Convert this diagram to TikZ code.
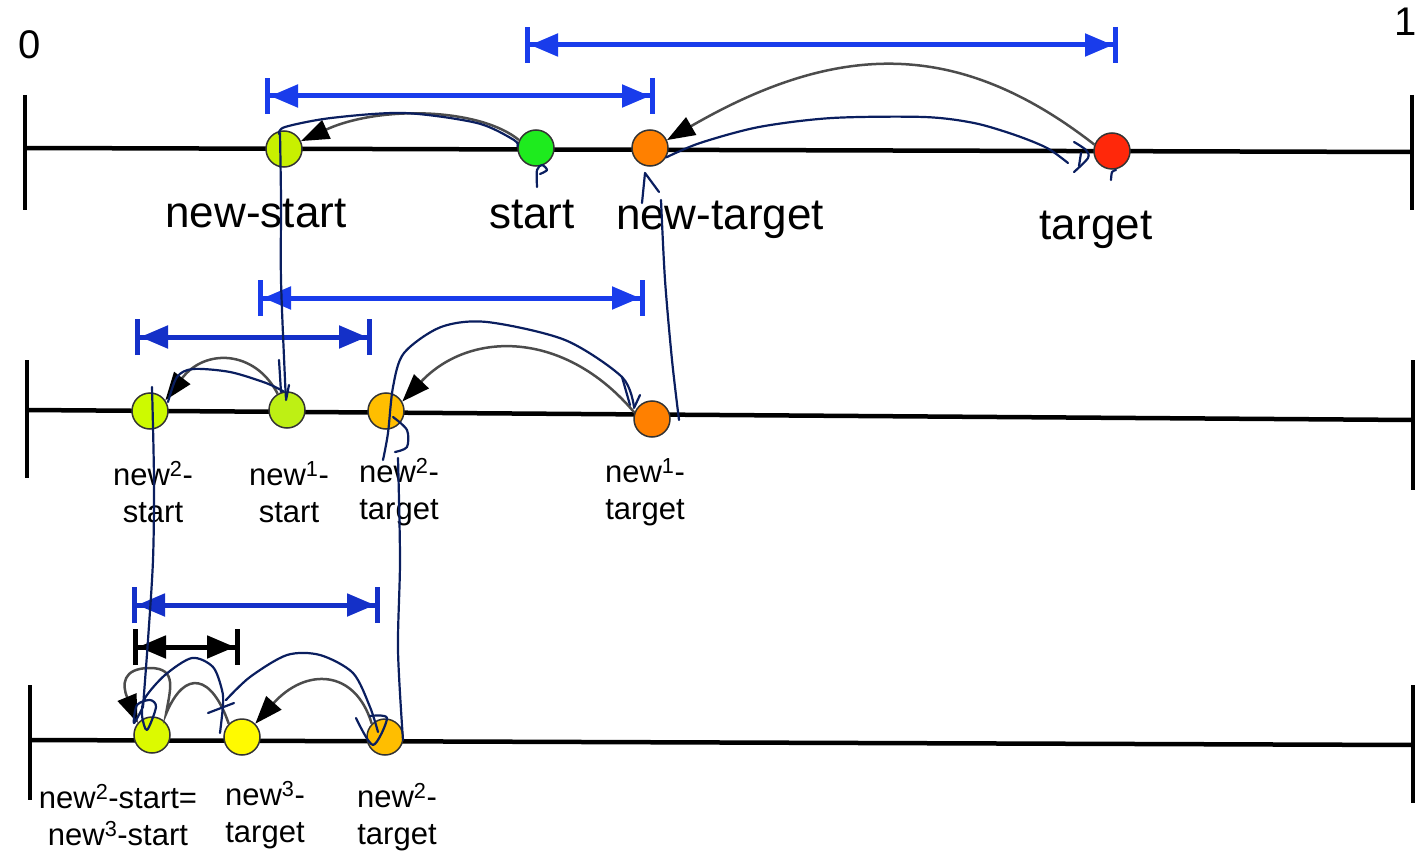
\documentclass[tikz,border=0pt]{standalone}
\usepackage{fontspec}
\setmainfont{Liberation Sans}
\usetikzlibrary{arrows.meta}
\definecolor{spanblue}{RGB}{25,60,235}
\definecolor{spanblueb}{RGB}{20,48,200}
\definecolor{navy}{RGB}{10,30,95}
\definecolor{cNS}{RGB}{200,240,0}
\definecolor{cST}{RGB}{30,235,30}
\definecolor{cNT}{RGB}{255,128,0}
\definecolor{cTG}{RGB}{255,40,10}
\definecolor{cNtwoS}{RGB}{205,250,0}
\definecolor{cNoneS}{RGB}{190,240,20}
\definecolor{cNtwoT}{RGB}{255,190,0}
\definecolor{cNthrS}{RGB}{220,250,0}
\definecolor{cNthrT}{RGB}{255,250,0}
\begin{document}
\begin{tikzpicture}[x=1pt,y=-1pt,
 axis/.style={line width=4.5pt,black},
 dot/.style={circle,draw=black!80,line width=1.5pt,minimum size=36pt,inner sep=0pt},
 span/.style={line width=5pt,{Bar[width=36pt]Triangle[length=28pt,width=22pt]}-{Triangle[length=28pt,width=22pt]Bar[width=36pt]}},
 hop/.style={line width=2.5pt,draw=black!70,-{Triangle[length=28pt,width=20pt,color=black,fill=black]}},
 pen/.style={line width=2.2pt,draw=navy,line cap=round,line join=round},
 big/.style={font=\fontsize{44}{48}\selectfont},
 small/.style={font=\fontsize{31}{37}\selectfont,align=center,inner sep=0pt},
]
\useasboundingbox (0,0) rectangle (1416,853);

% axes
\coordinate (a1l) at (25,148); \coordinate (a1r) at (1413,152);
\coordinate (a2l) at (27,410); \coordinate (a2r) at (1413,420);
\coordinate (a3l) at (30,740); \coordinate (a3r) at (1413,745);
\draw[axis] (a1l) -- (a1r);
\draw[axis] (a2l) -- (a2r);
\draw[axis] (a3l) -- (a3r);
\draw[axis] (25,95) -- (25,210);
\draw[axis] (1412,95) -- (1412,210);
\draw[axis] (27,360) -- (27,478);
\draw[axis] (1413,360) -- (1413,490);
\draw[axis] (30,685) -- (30,800);
\draw[axis] (1413,685) -- (1413,803);

\node[font=\fontsize{40}{44}\selectfont] (zero) at (30,45) {0};
\node[font=\fontsize{40}{44}\selectfont] (one) at (1406,22) {1};

% span arrows
\coordinate (s1a) at (525,45); \coordinate (s1b) at (1118,45);
\coordinate (s2a) at (265,96); \coordinate (s2b) at (655,96);
\coordinate (s3a) at (258,298); \coordinate (s3b) at (645,298);
\coordinate (s4a) at (135,337); \coordinate (s4b) at (372,337);
\coordinate (s5a) at (132,605); \coordinate (s5b) at (380,605);
\coordinate (s6a) at (133,647); \coordinate (s6b) at (240,647);
\draw[span,spanblue] (s1a) -- (s1b);
\draw[span,spanblue] (s2a) -- (s2b);
\draw[span,spanblue] (s3a) -- (s3b);
\draw[span,spanblueb] (s4a) -- (s4b);
\draw[span,spanblueb] (s5a) -- (s5b);
\draw[span,black] (s6a) -- (s6b);

% points
\node[dot,fill=cNS] (ns) at (284,149) {};
\node[dot,fill=cST] (st) at (536,148) {};
\node[dot,fill=cNT] (nt) at (650,148) {};
\node[dot,fill=cTG] (tg) at (1112,151) {};
\node[dot,fill=cNtwoS] (n2s) at (150,411) {};
\node[dot,fill=cNoneS] (n1s) at (287,410) {};
\node[dot,fill=cNtwoT] (n2t) at (386,411) {};
\node[dot,fill=cNT] (n1t) at (652,419) {};
\node[dot,fill=cNthrS] (n3s) at (152,735) {};
\node[dot,fill=cNthrT] (n3t) at (242,737) {};
\node[dot,fill=cNtwoT] (n2tb) at (385,737) {};

% hops
\draw[hop] (st.155) .. controls (480,108) and (380,105) .. (ns.25);
\draw[hop] (tg.160) .. controls (960,40) and (840,40) .. (nt.25);
\draw[hop] (n1s.120) .. controls (255,350) and (205,348) .. (n2s.35);
\draw[hop] (n1t.160) .. controls (565,330) and (470,330) .. (n2t.30);
\draw[hop] (n2tb.135) .. controls (355,668) and (305,668) .. (n3t.45);
\draw[hop] (n3t.135) .. controls (212,675) and (185,668) .. (166,714)
  .. controls (170,690) and (178,668) .. (150,668)
  .. controls (122,668) and (122,685) .. (n3s.140);

% labels
\node[big] (lns) at (256,213) {new-start};
\node[big] (lst) at (532,214) {start};
\node[big] (lnt) at (720,220) {new-target};
\node[big] (ltg) at (1096,230) {target};
\node[small] (ln2s) at (153,492) {new\textsuperscript{2}-\\start};
\node[small] (ln1s) at (289,492) {new\textsuperscript{1}-\\start};
\node[small] (ln2t) at (399,492) {new\textsuperscript{2}-\\target};
\node[small] (ln1t) at (645,492) {new\textsuperscript{1}-\\target};
\node[small] (ln3s) at (118,815) {new\textsuperscript{2}-start=\\new\textsuperscript{3}-start};
\node[small] (ln3t) at (265,815) {new\textsuperscript{3}-\\target};
\node[small] (ln2tb) at (397,817) {new\textsuperscript{2}-\\target};

% hand-drawn strokes
\draw[pen] plot[smooth] coordinates {(st.175) (514,140) (477,123) (404,113) (331,118) (285,127) (279,134)};
\draw[pen] plot[smooth] coordinates {(280,133) (281,200) (281,280) (285,380) (286,398)};
\draw[pen] (279,360) -- (281,392);
\draw[pen] (289,385) -- (286,400);
\draw[pen] plot[smooth] coordinates {(537,187) (537,170) (542,165) (547,170) (540,174)};
\draw[pen] plot[smooth] coordinates {(nt.-30) (700,143) (759,127) (832,118) (924,117) (974,123) (1015,135) (1047,148) (1068,163)};
\draw[pen] plot[smooth] coordinates {(1074,142) (1086,150) (1088,158) (1074,172)};
\draw[pen] (1081,153) -- (1079,166);
\draw[pen] plot[smooth] coordinates {(1111,180) (1112,172) (1116,170)};
\draw[pen] (642,203) -- (645,173) -- (659,192);
\draw[pen] plot[smooth] coordinates {(661,200) (665,280) (672,360) (679,420)};
% row 2
\draw[pen] plot[smooth] coordinates {(n1s.100) (266,383) (230,372) (193,369) (177,377) (168,402)};
\draw[pen] plot[smooth] coordinates {(634,407) (622,377) (565,340) (487,322) (441,327) (404,353) (393,387) (388,433) (383,460)};
\draw[pen] plot[smooth] coordinates {(393,417) (407,430) (407,447) (395,452)};
\draw[pen] (622,377) -- (630,405);
\draw[pen] (640,395) -- (634,408);
\draw[pen] plot[smooth] coordinates {(152,387) (154,480) (153,560) (148,640) (143,707)};
\draw[pen] plot[smooth] coordinates {(398,458) (400,560) (398,650) (403,740)};
% row 3
\draw[pen] plot[smooth] coordinates {(143,707) (134,723) (137,705) (150,700) (156,707) (147,730) (142,715) (145,698) (165,675) (192,658) (213,667) (222,690) (223,705) (220,733)};
\draw[pen] (208,713) -- (234,703);
\draw[pen] plot[smooth] coordinates {(226,700) (250,677) (287,655) (320,655) (353,673) (370,707) (378,732)};
\draw[pen] plot[smooth] coordinates {(356,718) (373,745) (387,718) (370,716)};
\end{tikzpicture}
\end{document}
